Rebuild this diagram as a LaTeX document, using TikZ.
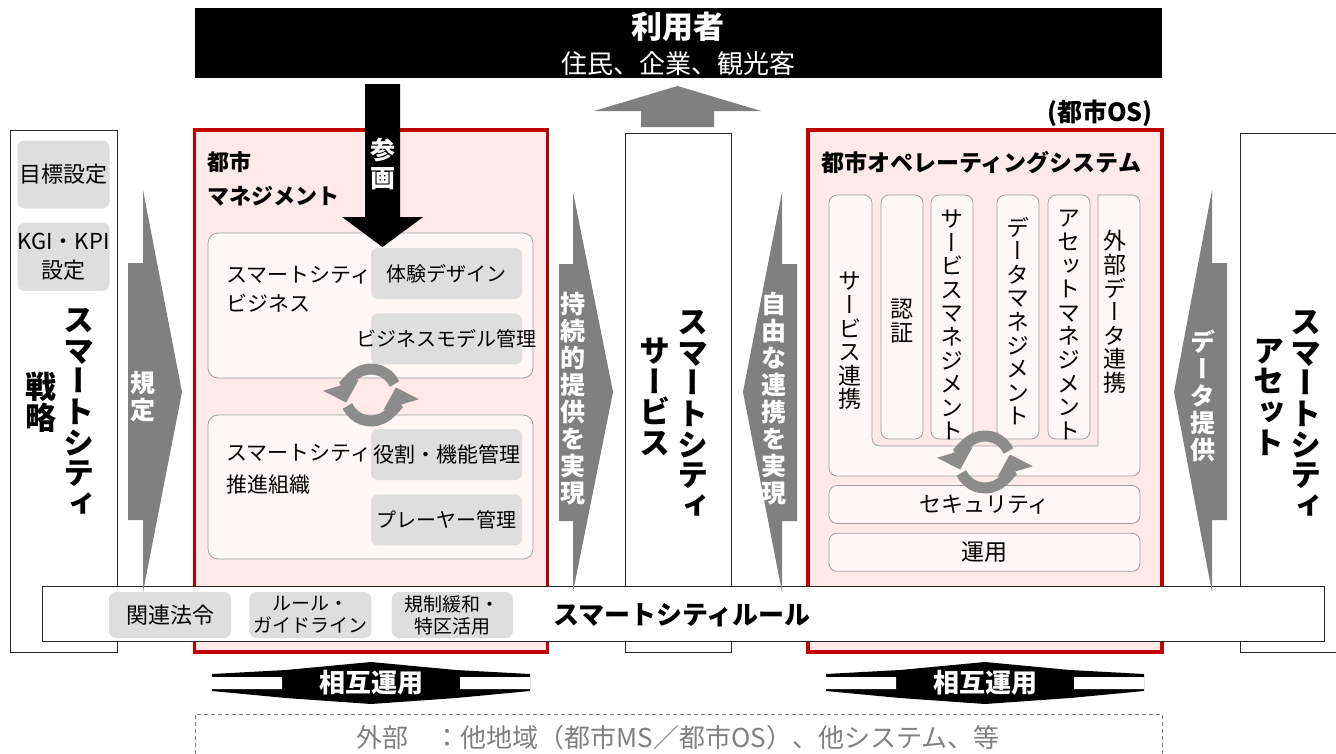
\documentclass[tikz,border=0pt]{standalone}
\usepackage{fontspec}
\setmainfont{Noto Sans CJK JP}
\newfontfamily\tatefont[RawFeature=+vert]{Noto Sans CJK JP}
\usetikzlibrary{arrows.meta, positioning}

\definecolor{cityred}{HTML}{C00000}
\definecolor{citypink}{HTML}{FFE9E9}
\definecolor{softpink}{HTML}{FFF6F6}
\definecolor{itemgray}{HTML}{DEDEDE}
\definecolor{wedgegray}{HTML}{808080}
\definecolor{cyclegray}{HTML}{8C8C8C}

\def\tate#1{\tatestep#1\relax}
\def\tatestep#1#2\relax{#1\ifx\relax#2\relax\expandafter\tategobble\else\expandafter\tatekeep\fi{\\\tatestep#2\relax}}
\long\def\tategobble#1{}
\long\def\tatekeep#1{#1}

\begin{document}
\begin{tikzpicture}[x=1pt, y=-1pt,
    every node/.style={inner sep=0pt, font=\fontsize{20}{24}\selectfont},
    frame/.style={rectangle, draw=black!85, fill=white, line width=0.9pt},
    citybox/.style={rectangle, draw=cityred, fill=citypink, line width=3.6pt},
    panel/.style={rectangle, draw=gray!75, fill=softpink, rounded corners=10pt, line width=0.8pt},
    item/.style={rectangle, fill=itemgray, rounded corners=7pt, minimum width=151pt, minimum height=51pt, align=center},
    column/.style={rectangle, draw=gray!75, fill=softpink, rounded corners=8pt, line width=0.8pt, minimum width=42pt, minimum height=244pt},
    coltext/.style={font=\tatefont\fontsize{23}{23.6}\selectfont, align=center},
    bigtate/.style={font=\tatefont\bfseries\fontsize{31}{30.7}\selectfont, align=center},
    wedge/.style={fill=wedgegray},
    wedgetext/.style={font=\tatefont\bfseries\fontsize{25}{27}\selectfont, text=white, align=center},
    cyc/.style={draw=cyclegray, line width=11pt, -{Triangle[width=36pt, length=18pt]}},
    linkarrow/.style={fill=black},
    linktext/.style={font=\bfseries\fontsize{26}{26}\selectfont, text=white}
]
\useasboundingbox (0,0) rectangle (1336,753);

\node[fill=black, minimum width=967pt, minimum height=70pt] (users) at (678.5,43) {};
\node[text=white, font=\bfseries\fontsize{31}{31}\selectfont] (usertitle) at (678,27) {利用者};
\node[text=white, font=\fontsize{26}{26}\selectfont] (userlist) at (678,64) {住民、企業、観光客};

\node[frame, minimum width=107pt, minimum height=522pt] (strategy) at (63.5,391) {};
\node[frame, minimum width=106pt, minimum height=519pt] (service) at (678,392.5) {};
\node[frame, minimum width=110pt, minimum height=519pt, anchor=north west] (asset) at (1240,133) {};
\node[citybox, minimum width=353pt, minimum height=522pt] (mgmt) at (371,391) {};
\node[citybox, minimum width=354pt, minimum height=522pt] (os) at (985,391) {};

\node[item, minimum width=92pt, minimum height=68pt, font=\fontsize{22}{24}\selectfont] (goal) at (63.5,174.5) {目標設定};
\node[item, minimum width=92pt, minimum height=68pt, font=\fontsize{22}{29}\selectfont, below=14pt of goal] (kgi) {KGI・KPI\\設定};
\node[bigtate] (strattitle) at (79,412) {\tate{スマートシティ}};
\node[bigtate] (stratsub) at (41,402) {\tate{戦略}};

\node[font=\bfseries\fontsize{22}{34}\selectfont, align=left, anchor=west] (mgmttitle) at (207,179) {都市\\マネジメント};
\node[panel, minimum width=325pt, minimum height=145pt] (bizpanel) at (370.5,305.5) {};
\node[panel, minimum width=325pt, minimum height=144pt] (orgpanel) at (370.5,487) {};
\node[align=left, anchor=west, font=\fontsize{21}{29}\selectfont] (biztext) at (226,289) {スマートシティ\\ビジネス};
\node[align=left, anchor=west, font=\fontsize{21}{32}\selectfont] (orgtext) at (226,469) {スマートシティ\\推進組織};
\node[item] (design) at (446.5,273.5) {体験デザイン};
\node[item, below=14pt of design] (bizmodel) {};
\node (bizmodeltext) at (bizmodel) {ビジネスモデル管理};
\node[item] (role) at (446.5,454.5) {};
\node[font=\fontsize{21}{24}\selectfont] (roletext) at (role) {役割・機能管理};
\node[item, below=14pt of role] (player) {プレーヤー管理};

\coordinate (mgmtcycle) at (371,395);
\draw[cyc] ([shift={(-25:26)}]mgmtcycle) arc[start angle=-25, end angle=-197, radius=26];
\draw[cyc] ([shift={(-205:26)}]mgmtcycle) arc[start angle=-205, end angle=-377, radius=26];

\node[font=\bfseries\fontsize{25}{25}\selectfont, anchor=east] (osnote) at (1153,113) {(都市OS)};
\node[font=\bfseries\fontsize{23}{23}\selectfont, anchor=west] (ostitle) at (821,163) {都市オペレーティングシステム};
\draw[draw=gray!75, fill=softpink, line width=0.8pt] (829,330) [rounded corners=8pt] -- (829,195) -- (872,195) -- (872,446) [sharp corners] -- (1098,446) -- (1098,195) [rounded corners=8pt] -- (1140,195) -- (1140,476) -- (829,476) -- cycle;
\node[column] (auth) at (902,317) {};
\node[column] (svcmgmt) at (952,317) {};
\node[column] (datamgmt) at (1018,317) {};
\node[column] (assetmgmt) at (1069,317) {};
\node[coltext] (svclink) at (850,341) {\tate{サービス連携}};
\node[coltext] (authtext) at (902,321) {\tate{認証}};
\node[coltext] (svcmgmttext) at (952,325) {\tate{サービスマネジメント}};
\node[coltext] (datamgmttext) at (1018,321) {\tate{データマネジメント}};
\node[coltext] (assetmgmttext) at (1069,325) {\tate{アセットマネジメント}};
\node[coltext] (extlink) at (1115,312) {\tate{外部データ連携}};
\node[panel, rounded corners=8pt, minimum width=311pt, minimum height=38pt, font=\fontsize{22}{24}\selectfont] (security) at (984.5,504.5) {セキュリティ};
\node[panel, rounded corners=8pt, minimum width=311pt, minimum height=38pt, font=\fontsize{23}{24}\selectfont, below=9pt of security] (operation) {運用};
\coordinate (oscycle) at (985,462);
\draw[cyc] ([shift={(-25:26)}]oscycle) arc[start angle=-25, end angle=-197, radius=26];
\draw[cyc] ([shift={(-205:26)}]oscycle) arc[start angle=-205, end angle=-377, radius=26];

\node[bigtate] (servicetitle) at (693,414) {\tate{スマートシティ}};
\node[bigtate] (servicesub) at (655,397) {\tate{サービス}};
\node[bigtate] (assettitle) at (1306,414) {\tate{スマートシティ}};
\node[bigtate] (assetsub) at (1269,397) {\tate{アセット}};

\node[frame, minimum width=1282pt, minimum height=55pt] (rules) at (683,613.5) {};
\node[font=\bfseries\fontsize{26}{26}\selectfont] (rulestitle) at (682,615) {スマートシティルール};
\node[item, minimum width=122pt, minimum height=46pt, font=\fontsize{22}{23}\selectfont] (laws) at (170,615) {関連法令};
\node[item, minimum width=122pt, minimum height=46pt, font=\fontsize{19}{22}\selectfont, right=18pt of laws] (guides) {ルール・\\ガイドライン};
\node[item, minimum width=121pt, minimum height=46pt, font=\fontsize{19}{22}\selectfont, right=20pt of guides] (dereg) {規制緩和・\\特区活用};

\fill[wedge] (143,190) -- (182,392) -- (143,592) -- (143,520) -- (128,520) -- (128,263) -- (143,263) -- cycle;
\node[wedgetext] (define) at (143,397) {\tate{規定}};
\fill[wedge] (573,192) -- (613,392) -- (573,592) -- (573,521) -- (559,521) -- (559,264) -- (573,264) -- cycle;
\node[wedgetext] (sustain) at (573,399) {\tate{持続的提供を実現}};
\fill[wedge] (782,192) -- (743,392) -- (782,592) -- (782,521) -- (797,521) -- (797,264) -- (782,264) -- cycle;
\node[wedgetext] (freelink) at (774,399) {\tate{自由な連携を実現}};
\fill[wedge] (1212,190) -- (1174,392) -- (1212,592) -- (1212,520) -- (1227,520) -- (1227,263) -- (1212,263) -- cycle;
\node[wedgetext] (dataprov) at (1203,396) {\tate{データ提供}};

\fill[wedge] (641,127) -- (641,111) -- (594,111) -- (677.5,86) -- (761,111) -- (714,111) -- (714,127) -- cycle;
\fill (365,84) -- (400,84) -- (400,217) -- (423,217) -- (382.5,247) -- (342,217) -- (365,217) -- cycle;
\node[font=\tatefont\bfseries\fontsize{25}{28}\selectfont, text=white, align=center] (join) at (382.5,164) {\tate{参画}};

\begin{scope}[shift={(371,683)}]
\fill[linkarrow] (-159,-9) -- (-85,-13) -- (0,-21) -- (85,-13) -- (159,-9) -- (159,8) -- (85,15) -- (0,21) -- (-85,15) -- (-159,8) -- cycle;
\fill[white] (-159,-6) rectangle (-89,6) (89,-6) rectangle (159,6);
\node[linktext] (mgmtinterop) at (0,0) {相互運用};
\end{scope}
\begin{scope}[shift={(985,683)}]
\fill[linkarrow] (-159,-9) -- (-85,-13) -- (0,-21) -- (85,-13) -- (159,-9) -- (159,8) -- (85,15) -- (0,21) -- (-85,15) -- (-159,8) -- cycle;
\fill[white] (-159,-6) rectangle (-89,6) (89,-6) rectangle (159,6);
\node[linktext] (osinterop) at (0,0) {相互運用};
\end{scope}

\node[draw=gray, dash pattern=on 4pt off 3pt, line width=0.8pt, minimum width=967pt, minimum height=60pt, anchor=north] (external) at (678.5,714) {};
\node[text=gray, font=\fontsize{26}{26}\selectfont] (externaltext) at (678,738) {外部　：他地域（都市MS／都市OS）、他システム、等};

\end{tikzpicture}
\end{document}
